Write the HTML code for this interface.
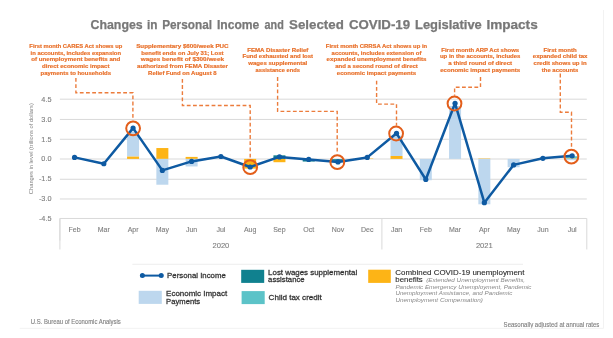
<!DOCTYPE html>
<html><head><meta charset="utf-8"><style>
html,body{margin:0;padding:0;background:#fff;width:613px;height:338px;overflow:hidden}
svg{display:block;will-change:transform;filter:blur(0.4px);font-family:"Liberation Sans",sans-serif}
</style></head><body>
<svg width="613" height="338" viewBox="0 0 613 338">
<text x="90.50" y="28.70" font-size="12.3" fill="#787878" font-weight="bold" font-style="normal" text-anchor="start" textLength="52.2" lengthAdjust="spacingAndGlyphs" stroke="#787878" stroke-width="0.25">Changes</text>
<text x="147.10" y="28.70" font-size="12.3" fill="#787878" font-weight="bold" font-style="normal" text-anchor="start" textLength="10.5" lengthAdjust="spacingAndGlyphs" stroke="#787878" stroke-width="0.25">in</text>
<text x="162.20" y="28.70" font-size="12.3" fill="#787878" font-weight="bold" font-style="normal" text-anchor="start" textLength="49.8" lengthAdjust="spacingAndGlyphs" stroke="#787878" stroke-width="0.25">Personal</text>
<text x="216.90" y="28.70" font-size="12.3" fill="#787878" font-weight="bold" font-style="normal" text-anchor="start" textLength="42.4" lengthAdjust="spacingAndGlyphs" stroke="#787878" stroke-width="0.25">Income</text>
<text x="264.60" y="28.70" font-size="12.3" fill="#787878" font-weight="bold" font-style="normal" text-anchor="start" textLength="19.2" lengthAdjust="spacingAndGlyphs" stroke="#787878" stroke-width="0.25">and</text>
<text x="289.10" y="28.70" font-size="12.3" fill="#787878" font-weight="bold" font-style="normal" text-anchor="start" textLength="54.7" lengthAdjust="spacingAndGlyphs" stroke="#787878" stroke-width="0.25">Selected</text>
<text x="348.90" y="28.70" font-size="12.3" fill="#787878" font-weight="bold" font-style="normal" text-anchor="start" textLength="61.2" lengthAdjust="spacingAndGlyphs" stroke="#787878" stroke-width="0.25">COVID-19</text>
<text x="415.00" y="28.70" font-size="12.3" fill="#787878" font-weight="bold" font-style="normal" text-anchor="start" textLength="66.8" lengthAdjust="spacingAndGlyphs" stroke="#787878" stroke-width="0.25">Legislative</text>
<text x="486.40" y="28.70" font-size="12.3" fill="#787878" font-weight="bold" font-style="normal" text-anchor="start" textLength="51.3" lengthAdjust="spacingAndGlyphs" stroke="#787878" stroke-width="0.25">Impacts</text>
<line x1="59.9" y1="99.2" x2="586.8" y2="99.2" stroke="#D9D9D9" stroke-width="1"/>
<line x1="59.9" y1="119.45" x2="586.8" y2="119.45" stroke="#D9D9D9" stroke-width="1"/>
<line x1="59.9" y1="139.27" x2="586.8" y2="139.27" stroke="#D9D9D9" stroke-width="1"/>
<line x1="59.9" y1="159.0" x2="586.8" y2="159.0" stroke="#D9D9D9" stroke-width="1"/>
<line x1="59.9" y1="179.27" x2="586.8" y2="179.27" stroke="#D9D9D9" stroke-width="1"/>
<line x1="59.9" y1="198.97" x2="586.8" y2="198.97" stroke="#D9D9D9" stroke-width="1"/>
<path d="M59.9 240.48000000000002 V218.48000000000002 H586.8 V249.48000000000002" fill="none" stroke="#D9D9D9" stroke-width="1"/>
<line x1="59.9" y1="218.48000000000002" x2="59.9" y2="249.48000000000002" stroke="#D9D9D9" stroke-width="1"/>
<line x1="381.89444444444445" y1="218.48000000000002" x2="381.89444444444445" y2="249.48000000000002" stroke="#D9D9D9" stroke-width="1"/>
<text x="51.50" y="101.82" font-size="7.3" fill="#7F7F7F" font-weight="normal" font-style="normal" text-anchor="end" stroke="#7F7F7F" stroke-width="0.12">4.5</text>
<text x="51.50" y="121.68" font-size="7.3" fill="#7F7F7F" font-weight="normal" font-style="normal" text-anchor="end" stroke="#7F7F7F" stroke-width="0.12">3.0</text>
<text x="51.50" y="141.54" font-size="7.3" fill="#7F7F7F" font-weight="normal" font-style="normal" text-anchor="end" stroke="#7F7F7F" stroke-width="0.12">1.5</text>
<text x="51.50" y="161.40" font-size="7.3" fill="#7F7F7F" font-weight="normal" font-style="normal" text-anchor="end" stroke="#7F7F7F" stroke-width="0.12">0.0</text>
<text x="51.50" y="181.26" font-size="7.3" fill="#7F7F7F" font-weight="normal" font-style="normal" text-anchor="end" stroke="#7F7F7F" stroke-width="0.12">-1.5</text>
<text x="51.50" y="201.12" font-size="7.3" fill="#7F7F7F" font-weight="normal" font-style="normal" text-anchor="end" stroke="#7F7F7F" stroke-width="0.12">-3.0</text>
<text x="51.50" y="220.98" font-size="7.3" fill="#7F7F7F" font-weight="normal" font-style="normal" text-anchor="end" stroke="#7F7F7F" stroke-width="0.12">-4.5</text>
<text transform="translate(33.2,148.7) rotate(-90)" font-size="5.6" fill="#7F7F7F" text-anchor="middle" textLength="91" lengthAdjust="spacingAndGlyphs">Changes in level (trillions of dollars)</text>
<text x="74.54" y="231.90" font-size="7.0" fill="#7F7F7F" font-weight="normal" font-style="normal" text-anchor="middle" stroke="#7F7F7F" stroke-width="0.12">Feb</text>
<text x="103.81" y="231.90" font-size="7.0" fill="#7F7F7F" font-weight="normal" font-style="normal" text-anchor="middle" stroke="#7F7F7F" stroke-width="0.12">Mar</text>
<text x="133.08" y="231.90" font-size="7.0" fill="#7F7F7F" font-weight="normal" font-style="normal" text-anchor="middle" stroke="#7F7F7F" stroke-width="0.12">Apr</text>
<text x="162.35" y="231.90" font-size="7.0" fill="#7F7F7F" font-weight="normal" font-style="normal" text-anchor="middle" stroke="#7F7F7F" stroke-width="0.12">May</text>
<text x="191.62" y="231.90" font-size="7.0" fill="#7F7F7F" font-weight="normal" font-style="normal" text-anchor="middle" stroke="#7F7F7F" stroke-width="0.12">Jun</text>
<text x="220.90" y="231.90" font-size="7.0" fill="#7F7F7F" font-weight="normal" font-style="normal" text-anchor="middle" stroke="#7F7F7F" stroke-width="0.12">Jul</text>
<text x="250.17" y="231.90" font-size="7.0" fill="#7F7F7F" font-weight="normal" font-style="normal" text-anchor="middle" stroke="#7F7F7F" stroke-width="0.12">Aug</text>
<text x="279.44" y="231.90" font-size="7.0" fill="#7F7F7F" font-weight="normal" font-style="normal" text-anchor="middle" stroke="#7F7F7F" stroke-width="0.12">Sep</text>
<text x="308.71" y="231.90" font-size="7.0" fill="#7F7F7F" font-weight="normal" font-style="normal" text-anchor="middle" stroke="#7F7F7F" stroke-width="0.12">Oct</text>
<text x="337.99" y="231.90" font-size="7.0" fill="#7F7F7F" font-weight="normal" font-style="normal" text-anchor="middle" stroke="#7F7F7F" stroke-width="0.12">Nov</text>
<text x="367.26" y="231.90" font-size="7.0" fill="#7F7F7F" font-weight="normal" font-style="normal" text-anchor="middle" stroke="#7F7F7F" stroke-width="0.12">Dec</text>
<text x="396.53" y="231.90" font-size="7.0" fill="#7F7F7F" font-weight="normal" font-style="normal" text-anchor="middle" stroke="#7F7F7F" stroke-width="0.12">Jan</text>
<text x="425.80" y="231.90" font-size="7.0" fill="#7F7F7F" font-weight="normal" font-style="normal" text-anchor="middle" stroke="#7F7F7F" stroke-width="0.12">Feb</text>
<text x="455.07" y="231.90" font-size="7.0" fill="#7F7F7F" font-weight="normal" font-style="normal" text-anchor="middle" stroke="#7F7F7F" stroke-width="0.12">Mar</text>
<text x="484.35" y="231.90" font-size="7.0" fill="#7F7F7F" font-weight="normal" font-style="normal" text-anchor="middle" stroke="#7F7F7F" stroke-width="0.12">Apr</text>
<text x="513.62" y="231.90" font-size="7.0" fill="#7F7F7F" font-weight="normal" font-style="normal" text-anchor="middle" stroke="#7F7F7F" stroke-width="0.12">May</text>
<text x="542.89" y="231.90" font-size="7.0" fill="#7F7F7F" font-weight="normal" font-style="normal" text-anchor="middle" stroke="#7F7F7F" stroke-width="0.12">Jun</text>
<text x="572.16" y="231.90" font-size="7.0" fill="#7F7F7F" font-weight="normal" font-style="normal" text-anchor="middle" stroke="#7F7F7F" stroke-width="0.12">Jul</text>
<text x="220.90" y="247.50" font-size="7.6" fill="#7F7F7F" font-weight="normal" font-style="normal" text-anchor="middle" stroke="#7F7F7F" stroke-width="0.12">2020</text>
<text x="484.35" y="247.50" font-size="7.6" fill="#7F7F7F" font-weight="normal" font-style="normal" text-anchor="middle" stroke="#7F7F7F" stroke-width="0.12">2021</text>
<rect x="127.08" y="156.38" width="12" height="2.52" fill="#FDB416"/>
<rect x="127.08" y="131.49" width="12" height="24.89" fill="#BDD7EE"/>
<rect x="156.35" y="148.04" width="12" height="10.86" fill="#FDB416"/>
<rect x="156.35" y="158.90" width="12" height="25.82" fill="#BDD7EE"/>
<rect x="185.62" y="156.91" width="12" height="1.99" fill="#FDB416"/>
<rect x="185.62" y="158.90" width="12" height="7.55" fill="#BDD7EE"/>
<rect x="244.17" y="158.90" width="12" height="9.67" fill="#FDB416"/>
<rect x="273.44" y="155.33" width="12" height="3.57" fill="#10818F"/>
<rect x="273.44" y="158.90" width="12" height="3.31" fill="#FDB416"/>
<rect x="302.71" y="159.56" width="12" height="1.99" fill="#10818F"/>
<rect x="331.99" y="159.16" width="12" height="1.72" fill="#10818F"/>
<rect x="361.26" y="158.50" width="12" height="0.40" fill="#FDB416"/>
<rect x="390.53" y="155.99" width="12" height="2.91" fill="#FDB416"/>
<rect x="390.53" y="135.73" width="12" height="20.26" fill="#BDD7EE"/>
<rect x="419.80" y="158.90" width="12" height="21.32" fill="#BDD7EE"/>
<rect x="449.07" y="105.94" width="12" height="52.96" fill="#BDD7EE"/>
<rect x="478.35" y="158.50" width="12" height="0.40" fill="#FDB416"/>
<rect x="478.35" y="158.90" width="12" height="45.41" fill="#BDD7EE"/>
<rect x="507.62" y="158.90" width="12" height="8.34" fill="#BDD7EE"/>
<rect x="536.89" y="158.50" width="12" height="0.40" fill="#FDB416"/>
<rect x="566.16" y="158.37" width="12" height="0.53" fill="#FDB416"/>
<rect x="566.16" y="156.25" width="12" height="2.12" fill="#5CC3C8"/>
<rect x="566.16" y="158.90" width="12" height="1.32" fill="#BDD7EE"/>
<polyline points="74.54,157.40 103.81,163.75 133.08,128.10 162.35,170.40 191.62,161.40 220.90,156.50 250.17,167.00 279.44,156.90 308.71,159.40 337.99,161.90 367.26,157.40 396.53,133.30 425.80,179.50 455.07,103.30 484.35,202.70 513.62,164.90 542.89,158.30 572.16,155.80" fill="none" stroke="#0E5AA2" stroke-width="2.5" stroke-linejoin="round"/>
<circle cx="74.54" cy="157.40" r="2.6" fill="#0E5AA2"/>
<circle cx="103.81" cy="163.75" r="2.6" fill="#0E5AA2"/>
<circle cx="133.08" cy="128.10" r="2.6" fill="#0E5AA2"/>
<circle cx="162.35" cy="170.40" r="2.6" fill="#0E5AA2"/>
<circle cx="191.62" cy="161.40" r="2.6" fill="#0E5AA2"/>
<circle cx="220.90" cy="156.50" r="2.6" fill="#0E5AA2"/>
<circle cx="250.17" cy="167.00" r="2.6" fill="#0E5AA2"/>
<circle cx="279.44" cy="156.90" r="2.6" fill="#0E5AA2"/>
<circle cx="308.71" cy="159.40" r="2.6" fill="#0E5AA2"/>
<circle cx="337.99" cy="161.90" r="2.6" fill="#0E5AA2"/>
<circle cx="367.26" cy="157.40" r="2.6" fill="#0E5AA2"/>
<circle cx="396.53" cy="133.30" r="2.6" fill="#0E5AA2"/>
<circle cx="425.80" cy="179.50" r="2.6" fill="#0E5AA2"/>
<circle cx="455.07" cy="103.30" r="2.6" fill="#0E5AA2"/>
<circle cx="484.35" cy="202.70" r="2.6" fill="#0E5AA2"/>
<circle cx="513.62" cy="164.90" r="2.6" fill="#0E5AA2"/>
<circle cx="542.89" cy="158.30" r="2.6" fill="#0E5AA2"/>
<circle cx="572.16" cy="155.80" r="2.6" fill="#0E5AA2"/>
<circle cx="133.10" cy="128.30" r="6.9" fill="none" stroke="#E35E1A" stroke-width="2.0"/>
<circle cx="250.20" cy="167.20" r="6.9" fill="none" stroke="#E35E1A" stroke-width="2.0"/>
<circle cx="337.30" cy="162.20" r="6.9" fill="none" stroke="#E35E1A" stroke-width="2.0"/>
<circle cx="396.10" cy="133.50" r="6.9" fill="none" stroke="#E35E1A" stroke-width="2.0"/>
<circle cx="454.50" cy="103.50" r="6.9" fill="none" stroke="#E35E1A" stroke-width="2.0"/>
<circle cx="571.40" cy="156.60" r="6.9" fill="none" stroke="#E35E1A" stroke-width="2.0"/>
<path d="M75.90 78.00 V92.70 H132.90 V120.50" fill="none" stroke="#EC7C3C" stroke-width="1.4" stroke-dasharray="3.8 2.4"/>
<path d="M182.40 78.90 V105.50 H250.20 V159.40" fill="none" stroke="#EC7C3C" stroke-width="1.4" stroke-dasharray="3.8 2.4"/>
<path d="M277.60 77.10 V111.40 H337.20 V154.40" fill="none" stroke="#EC7C3C" stroke-width="1.4" stroke-dasharray="3.8 2.4"/>
<path d="M376.60 80.70 V104.10 H396.50 V125.70" fill="none" stroke="#EC7C3C" stroke-width="1.4" stroke-dasharray="3.8 2.4"/>
<path d="M480.50 77.10 V87.20 H454.60 V95.70" fill="none" stroke="#EC7C3C" stroke-width="1.4" stroke-dasharray="3.8 2.4"/>
<path d="M560.30 73.60 V112.30 H571.50 V148.80" fill="none" stroke="#EC7C3C" stroke-width="1.4" stroke-dasharray="3.8 2.4"/>
<text x="75.80" y="47.90" font-size="6.2" fill="#E8702A" font-weight="bold" font-style="normal" text-anchor="middle" textLength="92.9" lengthAdjust="spacingAndGlyphs" stroke="#E8702A" stroke-width="0.2">First month CARES Act shows up</text>
<text x="75.80" y="54.65" font-size="6.2" fill="#E8702A" font-weight="bold" font-style="normal" text-anchor="middle" textLength="90.5" lengthAdjust="spacingAndGlyphs" stroke="#E8702A" stroke-width="0.2">in accounts, includes expansion</text>
<text x="75.80" y="61.40" font-size="6.2" fill="#E8702A" font-weight="bold" font-style="normal" text-anchor="middle" textLength="89.2" lengthAdjust="spacingAndGlyphs" stroke="#E8702A" stroke-width="0.2">of unemployment benefits and</text>
<text x="75.80" y="68.15" font-size="6.2" fill="#E8702A" font-weight="bold" font-style="normal" text-anchor="middle" textLength="67.4" lengthAdjust="spacingAndGlyphs" stroke="#E8702A" stroke-width="0.2">direct economic impact</text>
<text x="75.80" y="74.90" font-size="6.2" fill="#E8702A" font-weight="bold" font-style="normal" text-anchor="middle" textLength="70.5" lengthAdjust="spacingAndGlyphs" stroke="#E8702A" stroke-width="0.2">payments to households</text>
<text x="182.40" y="47.90" font-size="6.2" fill="#E8702A" font-weight="bold" font-style="normal" text-anchor="middle" textLength="92.4" lengthAdjust="spacingAndGlyphs" stroke="#E8702A" stroke-width="0.2">Supplementary $600/week PUC</text>
<text x="182.40" y="54.65" font-size="6.2" fill="#E8702A" font-weight="bold" font-style="normal" text-anchor="middle" textLength="82.1" lengthAdjust="spacingAndGlyphs" stroke="#E8702A" stroke-width="0.2">benefit ends on July 31; Lost</text>
<text x="182.40" y="61.40" font-size="6.2" fill="#E8702A" font-weight="bold" font-style="normal" text-anchor="middle" textLength="83.2" lengthAdjust="spacingAndGlyphs" stroke="#E8702A" stroke-width="0.2">wages benefit of $300/week</text>
<text x="182.40" y="68.15" font-size="6.2" fill="#E8702A" font-weight="bold" font-style="normal" text-anchor="middle" textLength="90.8" lengthAdjust="spacingAndGlyphs" stroke="#E8702A" stroke-width="0.2">authorized from FEMA Disaster</text>
<text x="182.40" y="74.90" font-size="6.2" fill="#E8702A" font-weight="bold" font-style="normal" text-anchor="middle" textLength="68.6" lengthAdjust="spacingAndGlyphs" stroke="#E8702A" stroke-width="0.2">Relief Fund on August 8</text>
<text x="277.80" y="51.50" font-size="6.2" fill="#E8702A" font-weight="bold" font-style="normal" text-anchor="middle" textLength="61.1" lengthAdjust="spacingAndGlyphs" stroke="#E8702A" stroke-width="0.2">FEMA Disaster Relief</text>
<text x="277.80" y="58.25" font-size="6.2" fill="#E8702A" font-weight="bold" font-style="normal" text-anchor="middle" textLength="70.5" lengthAdjust="spacingAndGlyphs" stroke="#E8702A" stroke-width="0.2">Fund exhausted and lost</text>
<text x="277.80" y="65.00" font-size="6.2" fill="#E8702A" font-weight="bold" font-style="normal" text-anchor="middle" textLength="59.0" lengthAdjust="spacingAndGlyphs" stroke="#E8702A" stroke-width="0.2">wages supplemental</text>
<text x="277.80" y="71.75" font-size="6.2" fill="#E8702A" font-weight="bold" font-style="normal" text-anchor="middle" textLength="44.4" lengthAdjust="spacingAndGlyphs" stroke="#E8702A" stroke-width="0.2">assistance ends</text>
<text x="376.50" y="47.90" font-size="6.2" fill="#E8702A" font-weight="bold" font-style="normal" text-anchor="middle" textLength="101.4" lengthAdjust="spacingAndGlyphs" stroke="#E8702A" stroke-width="0.2">First month CRRSA Act shows up in</text>
<text x="376.50" y="54.65" font-size="6.2" fill="#E8702A" font-weight="bold" font-style="normal" text-anchor="middle" textLength="89.8" lengthAdjust="spacingAndGlyphs" stroke="#E8702A" stroke-width="0.2">accounts, includes extension of</text>
<text x="376.50" y="61.40" font-size="6.2" fill="#E8702A" font-weight="bold" font-style="normal" text-anchor="middle" textLength="99.8" lengthAdjust="spacingAndGlyphs" stroke="#E8702A" stroke-width="0.2">expanded unemployment benefits</text>
<text x="376.50" y="68.15" font-size="6.2" fill="#E8702A" font-weight="bold" font-style="normal" text-anchor="middle" textLength="82.7" lengthAdjust="spacingAndGlyphs" stroke="#E8702A" stroke-width="0.2">and a second round of direct</text>
<text x="376.50" y="74.90" font-size="6.2" fill="#E8702A" font-weight="bold" font-style="normal" text-anchor="middle" textLength="79.4" lengthAdjust="spacingAndGlyphs" stroke="#E8702A" stroke-width="0.2">economic impact payments</text>
<text x="480.20" y="51.50" font-size="6.2" fill="#E8702A" font-weight="bold" font-style="normal" text-anchor="middle" textLength="77.8" lengthAdjust="spacingAndGlyphs" stroke="#E8702A" stroke-width="0.2">First month ARP Act shows</text>
<text x="480.20" y="58.25" font-size="6.2" fill="#E8702A" font-weight="bold" font-style="normal" text-anchor="middle" textLength="80.5" lengthAdjust="spacingAndGlyphs" stroke="#E8702A" stroke-width="0.2">up in the accounts, includes</text>
<text x="480.20" y="65.00" font-size="6.2" fill="#E8702A" font-weight="bold" font-style="normal" text-anchor="middle" textLength="63.9" lengthAdjust="spacingAndGlyphs" stroke="#E8702A" stroke-width="0.2">a third round of direct</text>
<text x="480.20" y="71.75" font-size="6.2" fill="#E8702A" font-weight="bold" font-style="normal" text-anchor="middle" textLength="80.1" lengthAdjust="spacingAndGlyphs" stroke="#E8702A" stroke-width="0.2">economic impact payments</text>
<text x="560.10" y="51.50" font-size="6.2" fill="#E8702A" font-weight="bold" font-style="normal" text-anchor="middle" textLength="33.3" lengthAdjust="spacingAndGlyphs" stroke="#E8702A" stroke-width="0.2">First month</text>
<text x="560.10" y="58.25" font-size="6.2" fill="#E8702A" font-weight="bold" font-style="normal" text-anchor="middle" textLength="54.6" lengthAdjust="spacingAndGlyphs" stroke="#E8702A" stroke-width="0.2">expanded child tax</text>
<text x="560.10" y="65.00" font-size="6.2" fill="#E8702A" font-weight="bold" font-style="normal" text-anchor="middle" textLength="53.0" lengthAdjust="spacingAndGlyphs" stroke="#E8702A" stroke-width="0.2">credit shows up in</text>
<text x="560.10" y="71.75" font-size="6.2" fill="#E8702A" font-weight="bold" font-style="normal" text-anchor="middle" textLength="36.5" lengthAdjust="spacingAndGlyphs" stroke="#E8702A" stroke-width="0.2">the accounts</text>
<line x1="132.4" y1="264.3" x2="523" y2="264.3" stroke="#E8E8E8" stroke-width="0.8"/>
<line x1="140.3" y1="275.6" x2="163.2" y2="275.6" stroke="#0E5AA2" stroke-width="2"/>
<circle cx="142.4" cy="275.6" r="2.5" fill="#0E5AA2"/><circle cx="161.2" cy="275.6" r="2.5" fill="#0E5AA2"/>
<text x="167.10" y="277.90" font-size="7.9" fill="#333333" font-weight="normal" font-style="normal" text-anchor="start" textLength="58.7" lengthAdjust="spacingAndGlyphs" stroke="#333333" stroke-width="0.28">Personal Income</text>
<rect x="138.7" y="290.8" width="23.1" height="13.1" fill="#BDD7EE"/>
<text x="166.10" y="296.10" font-size="7.9" fill="#333333" font-weight="normal" font-style="normal" text-anchor="start" textLength="61.1" lengthAdjust="spacingAndGlyphs" stroke="#333333" stroke-width="0.28">Economic Impact</text>
<text x="166.10" y="303.50" font-size="7.9" fill="#333333" font-weight="normal" font-style="normal" text-anchor="start" textLength="34.0" lengthAdjust="spacingAndGlyphs" stroke="#333333" stroke-width="0.28">Payments</text>
<rect x="241.2" y="269.8" width="23" height="13.1" fill="#10818F"/>
<text x="268.10" y="275.00" font-size="7.9" fill="#333333" font-weight="normal" font-style="normal" text-anchor="start" textLength="89.1" lengthAdjust="spacingAndGlyphs" stroke="#333333" stroke-width="0.28">Lost wages supplemental</text>
<text x="268.10" y="282.20" font-size="7.9" fill="#333333" font-weight="normal" font-style="normal" text-anchor="start" textLength="36.5" lengthAdjust="spacingAndGlyphs" stroke="#333333" stroke-width="0.28">assistance</text>
<rect x="241.6" y="291.1" width="23.1" height="13" fill="#5CC3C8"/>
<text x="268.60" y="300.00" font-size="7.9" fill="#333333" font-weight="normal" font-style="normal" text-anchor="start" textLength="53.2" lengthAdjust="spacingAndGlyphs" stroke="#333333" stroke-width="0.28">Child tax credit</text>
<rect x="368.2" y="269.7" width="22.6" height="13.2" fill="#FDB416"/>
<text x="395.30" y="275.20" font-size="7.8" fill="#262626" font-weight="normal" font-style="normal" text-anchor="start" textLength="129.2" lengthAdjust="spacingAndGlyphs" stroke="#2B2B2B" stroke-width="0.1">Combined COVID-19 unemployment</text>
<text x="395.30" y="282.30" font-size="7.8" fill="#262626" font-weight="normal" font-style="normal" text-anchor="start" textLength="27.5" lengthAdjust="spacingAndGlyphs" stroke="#2B2B2B" stroke-width="0.1">benefits</text>
<text x="426.20" y="282.30" font-size="6.2" fill="#888888" font-weight="normal" font-style="italic" text-anchor="start" textLength="98.9" lengthAdjust="spacingAndGlyphs">(Extended Unemployment Benefits,</text>
<text x="395.40" y="289.10" font-size="6.2" fill="#888888" font-weight="normal" font-style="italic" text-anchor="start" textLength="136.0" lengthAdjust="spacingAndGlyphs">Pandemic Emergency Unemployment, Pandemic</text>
<text x="395.40" y="295.40" font-size="6.2" fill="#888888" font-weight="normal" font-style="italic" text-anchor="start" textLength="116.9" lengthAdjust="spacingAndGlyphs">Unemployment Assistance, and Pandemic</text>
<text x="395.40" y="301.60" font-size="6.2" fill="#888888" font-weight="normal" font-style="italic" text-anchor="start" textLength="87.6" lengthAdjust="spacingAndGlyphs">Unemployment Compensation)</text>
<text x="30.80" y="323.60" font-size="6.6" fill="#7F7F7F" font-weight="normal" font-style="normal" text-anchor="start" textLength="90.0" lengthAdjust="spacingAndGlyphs" stroke="#7F7F7F" stroke-width="0.12">U.S. Bureau of Economic Analysis</text>
<text x="599.40" y="326.50" font-size="6.4" fill="#7F7F7F" font-weight="normal" font-style="normal" text-anchor="end" textLength="95.8" lengthAdjust="spacingAndGlyphs" stroke="#7F7F7F" stroke-width="0.12">Seasonally adjusted at annual rates</text>
<path d="M19.7 328.3 H603.5 V10" fill="none" stroke="#F2F2F2" stroke-width="1"/>
</svg>
</body></html>
